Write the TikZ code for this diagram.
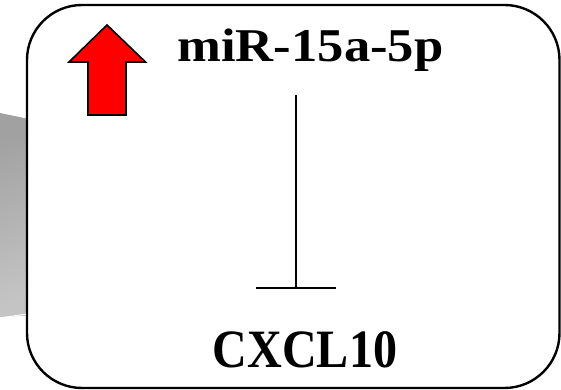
\documentclass[tikz,border=0pt]{standalone}
\usepackage{fontspec}
\setmainfont{Liberation Serif}
\usetikzlibrary{arrows.meta,shadings}
\begin{document}
\begin{tikzpicture}[x=1pt,y=1pt,
  panel/.style={draw=black,line width=2.4pt,fill=white,rounded corners=55pt},
  uparrow/.style={draw=black,line width=1.6pt,fill=red,line join=miter},
  label/.style={inner sep=0pt,anchor=base,font=\bfseries},
  inhibit/.style={line width=2pt,-{Bar[width=80pt,line width=2pt]}}]
  \useasboundingbox (0,0) rectangle (561,390);
  % grey wedge sticking out behind the panel
  \shade[shading=axis,top color=black!37,bottom color=black!23,shading angle=20]
    (0,277) -- (40,269) -- (40,75) -- (0,73) -- cycle;
  \draw[white,line width=1pt] (0,278) -- (27,272);
  \draw[white,line width=1pt] (0,72) -- (27,76);
  % rounded panel
  \draw[panel] (27,2) rectangle (559.5,385);
  % red up arrow
  \draw[uparrow] (107,365) -- (145.5,328) -- (126,328) -- (126,275)
    -- (88,275) -- (88,328) -- (69,328) -- cycle;
  % labels
  \node[label] (mir) at (310.5,328) {\scalebox{1.12}[1]{\fontsize{47}{50}\selectfont miR-15a-5p}};
  \node[label] (cxcl) at (305,22) {\scalebox{0.89}[1]{\fontsize{54}{58}\selectfont CXCL10}};
  % inhibition link
  \coordinate (inhA) at (296,295);
  \coordinate (inhB) at (296,101);
  \draw[inhibit] (inhA) -- (inhB);
\end{tikzpicture}
\end{document}
